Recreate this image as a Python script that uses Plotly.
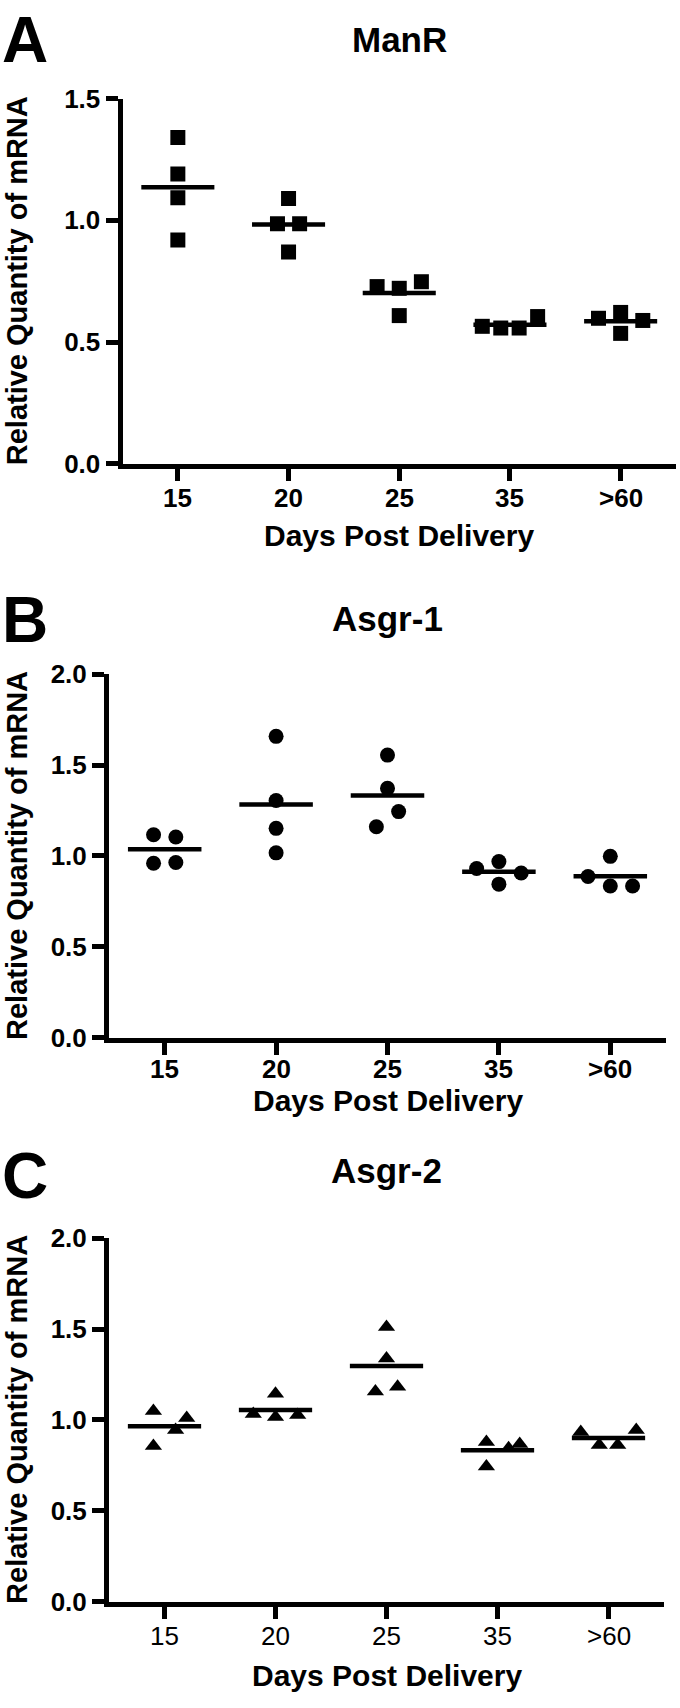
import numpy as np
import plotly.graph_objects as go

# ---------------- data ----------------
days = ["15", "20", "25", "35", ">60"]

manr_d15 = [1.340, 1.190, 1.093, 0.919]
manr_d20 = [1.090, 0.986, 0.986, 0.870]
manr_d25 = [0.728, 0.721, 0.748, 0.609]
manr_d35 = [0.565, 0.558, 0.558, 0.605]
manr_d60 = [0.598, 0.622, 0.589, 0.536]

asgr1_d15 = [1.117, 1.104, 0.960, 0.964]
asgr1_d20 = [1.658, 1.305, 1.152, 1.017]
asgr1_d25 = [1.555, 1.372, 1.244, 1.161]
asgr1_d35 = [0.931, 0.969, 0.906, 0.845]
asgr1_d60 = [0.887, 0.998, 0.835, 0.835]

asgr2_d15 = [1.049, 0.856, 0.944, 1.011]
asgr2_d20 = [1.033, 1.144, 1.016, 1.027]
asgr2_d25 = [1.511, 1.338, 1.156, 1.182]
asgr2_d35 = [0.878, 0.744, 0.844, 0.867]
asgr2_d60 = [0.933, 0.862, 0.862, 0.944]

panel_titles = ["ManR", "Asgr-1", "Asgr-2"]
panel_letters = ["A", "B", "C"]
y_title = "Relative Quantity of mRNA"
x_title = "Days Post Delivery"
y_max = [1.5, 2.0, 2.0]

# ---------------- layout helpers (scatter spread, in category units) ----------------
manr_spread = [[0, 0, 0, 0], [0, -0.1, 0.1, 0], [-0.2, 0, 0.2, 0],
               [-0.25, -0.083, 0.083, 0.25], [-0.2, 0, 0.2, 0]]
asgr1_spread = [[-0.1, 0.1, -0.1, 0.1], [0, 0, 0, 0], [0, 0, 0.1, -0.1],
                [-0.2, 0, 0.2, 0], [-0.2, 0, 0, 0.2]]
asgr2_spread = [[-0.1, -0.1, 0.1, 0.2], [-0.2, 0, 0, 0.2], [0, 0, -0.1, 0.1],
                [-0.1, -0.1, 0.1, 0.2], [-0.25, -0.083, 0.083, 0.25]]

panels = [
    ([manr_d15, manr_d20, manr_d25, manr_d35, manr_d60], manr_spread, "square"),
    ([asgr1_d15, asgr1_d20, asgr1_d25, asgr1_d35, asgr1_d60], asgr1_spread, "circle"),
    ([asgr2_d15, asgr2_d20, asgr2_d25, asgr2_d35, asgr2_d60], asgr2_spread, "triangle-up"),
]

W, H = 680, 1708
FONT = "Liberation Sans, Arial, Helvetica, sans-serif"

# pixel geometry of each panel: (x_left, x_right, y_top, y_bottom)
geom = [
    (122.5, 676, 85, 457),
    (109, 666, 671, 1041),
    (109, 664, 1245, 1615),
]
letter_y = [25, 616, 1182]
title_y = [25, 614, 1176]
xtick_y = [492, 1073, 1650]
xtitle_y = [530, 1105, 1690]
xtick_bold = [True, True, False]


def px_x(v):
    return v / W


def px_y(v):
    return 1 - v / H


fig = go.Figure()
annotations = []
layout_axes = {}

for i, (groups, spread, symbol) in enumerate(panels):
    n = i + 1
    xa = "x" if n == 1 else f"x{n}"
    ya = "y" if n == 1 else f"y{n}"
    xl, xr, yt, yb = geom[i]

    xs, ys = [], []
    lx, ly = [], []
    for c, (vals, offs) in enumerate(zip(groups, spread)):
        for v, o in zip(vals, offs):
            xs.append(c + o)
            ys.append(v)
        m = float(np.mean(vals))
        lx += [c - 0.33, c + 0.33, None]
        ly += [m, m, None]

    fig.add_trace(go.Scatter(x=lx, y=ly, mode="lines", xaxis=xa, yaxis=ya,
                             line=dict(color="black", width=4.5),
                             hoverinfo="skip", showlegend=False))
    fig.add_trace(go.Scatter(x=xs, y=ys, mode="markers", xaxis=xa, yaxis=ya,
                             marker=dict(symbol=symbol, size=15, color="black",
                                         line=dict(width=0)),
                             showlegend=False))

    common = dict(showline=True, linecolor="black", linewidth=5,
                  ticks="outside", ticklen=12, tickwidth=5, tickcolor="black",
                  showgrid=False, zeroline=False)
    xkey = "xaxis" if n == 1 else f"xaxis{n}"
    ykey = "yaxis" if n == 1 else f"yaxis{n}"
    layout_axes[xkey] = dict(
        common, domain=[px_x(xl), px_x(xr)], anchor=ya, range=[-0.5, 4.5],
        tickmode="array", tickvals=list(range(len(days))), ticktext=days,
        showticklabels=False)
    layout_axes[ykey] = dict(
        common, domain=[px_y(yb), px_y(yt)], anchor=xa, range=[0, y_max[i]],
        tickmode="linear", tick0=0, dtick=0.5, tickformat=".1f",
        tickfont=dict(family=FONT, size=26, color="black", weight="bold"))

    # category tick labels, placed on the x axis scale
    for c, lab in enumerate(days):
        annotations.append(dict(
            text=lab, x=c, xref=xa, y=px_y(xtick_y[i]), yref="paper",
            xanchor="center", yanchor="middle", showarrow=False,
            font=dict(family=FONT, size=26, color="black",
                      weight="bold" if xtick_bold[i] else "normal")))

    cx = (xl + xr) / 2
    annotations += [
        dict(text=panel_letters[i], x=px_x(0), y=px_y(letter_y[i]), xref="paper", yref="paper",
             xanchor="left", yanchor="middle", showarrow=False,
             font=dict(family=FONT, size=64, color="black", weight="bold")),
        dict(text=panel_titles[i], x=px_x(cx), y=px_y(title_y[i]), xref="paper", yref="paper",
             xanchor="center", yanchor="middle", showarrow=False,
             font=dict(family=FONT, size=35, color="black", weight="bold")),
        dict(text=x_title, x=px_x(cx), y=px_y(xtitle_y[i]), xref="paper", yref="paper",
             xanchor="center", yanchor="middle", showarrow=False,
             font=dict(family=FONT, size=30, color="black", weight="bold")),
        dict(text=y_title, x=px_x(17), y=px_y((yt + yb) / 2), xref="paper", yref="paper",
             xanchor="center", yanchor="middle", textangle=-90, showarrow=False,
             font=dict(family=FONT, size=29, color="black", weight="bold")),
    ]

fig.update_layout(
    width=W, height=H, margin=dict(l=0, r=0, t=0, b=0),
    paper_bgcolor="white", plot_bgcolor="white", showlegend=False,
    annotations=annotations, **layout_axes)

fig.write_html("out.html", config={"displayModeBar": False},
               post_script="document.body.style.margin='0';document.body.style.overflow='hidden';")
